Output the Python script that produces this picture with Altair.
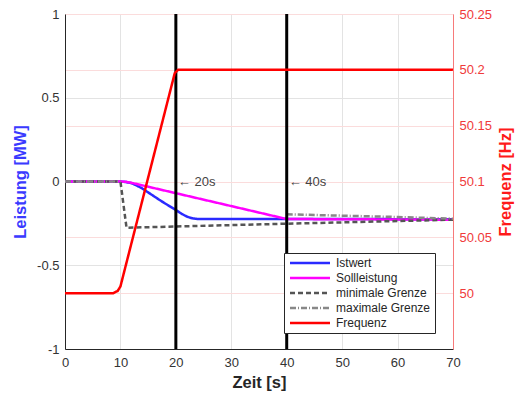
import altair as alt
import pandas as pd

# ---- data ----
series_names = ["Istwert", "Sollleistung", "minimale Grenze", "maximale Grenze", "Frequenz"]

ist_t = [0, 10, 11, 12, 13, 14, 15, 16, 17, 18, 19, 20, 21, 22, 23, 24, 40, 70]
ist_v = [0, 0, -0.003, -0.01, -0.025, -0.043, -0.065, -0.087, -0.109, -0.13, -0.15, -0.17, -0.192, -0.21, -0.22, -0.224, -0.224, -0.225]

soll_t = [0, 10, 11, 12, 40, 70]
soll_v = [0, 0, -0.002, -0.008, -0.224, -0.228]

min_t = [0, 10, 11.1, 40, 70]
min_v = [0, 0, -0.276, -0.252, -0.228]

# maximale Grenze: two visible pieces (0-10 s and 40-70 s)
max_t = [0, 10, 40, 60, 70]
max_v = [0, 0, -0.196, -0.212, -0.222]
max_seg = [0, 0, 1, 1, 1]

freq_t = [0, 8.7, 9.5, 10, 19.8, 20.4, 70]
freq_v = [50.0, 50.0, 50.002, 50.006, 50.197, 50.2, 50.2]

marker_t = [20, 40]
marker_text = ["\u2190  20s", "\u2190  40s"]

x_ticks = [0, 10, 20, 30, 40, 50, 60, 70]
left_ticks = [-1, -0.5, 0, 0.5, 1]
right_ticks = [50, 50.05, 50.1, 50.15, 50.2, 50.25]

line_colors = ["#2a2aff", "#ff00ff", "#555555", "#888888", "#ff0000"]
line_dashes = [[1, 0], [1, 0], [5, 3], [6, 2, 1, 2], [1, 0]]
line_widths = [2.5, 2.5, 1, 1, 4]

# ---- tables ----
rows = []
for name, ts, vs, segs in [("Istwert", ist_t, ist_v, None), ("Sollleistung", soll_t, soll_v, None),
                           ("minimale Grenze", min_t, min_v, None),
                           ("maximale Grenze", max_t, max_v, max_seg)]:
    for i, (t, v) in enumerate(zip(ts, vs)):
        rows.append({"series": name, "t": t, "v": v, "ord": i,
                     "seg": name + str(segs[i] if segs else 0)})
df_p = pd.DataFrame(rows)
df_f = pd.DataFrame({"series": "Frequenz", "t": freq_t, "f": freq_v, "ord": list(range(len(freq_t)))})
df_m = pd.DataFrame({"t": marker_t, "v": [0, 0], "label": marker_text})

FONT = "Liberation Sans"

x_enc = alt.X("t:Q", scale=alt.Scale(domain=[0, 70], nice=False),
              axis=alt.Axis(values=x_ticks, title="Zeit [s]", grid=True, gridColor="#e3e3e3",
                            domainColor="#262626", tickSize=0, labelPadding=7, labelFlush=False,
                            labelFontSize=13, labelColor="#333333", labelFont=FONT,
                            titleFont=FONT, titleFontSize=16.5, titleFontWeight="bold",
                            titleColor="#262626", titlePadding=5))

legend = alt.Legend(title=None, orient="none", legendX=219, legendY=239,
                    fillColor="white", strokeColor="#262626", padding=4,
                    symbolType="M-5,0H5", symbolSize=64, symbolOffset=16,
                    labelFontSize=12, labelFont=FONT, labelColor="#262626",
                    rowPadding=3, labelLimit=0, labelOffset=20)

color = alt.Color("series:N", scale=alt.Scale(domain=series_names, range=line_colors), legend=legend)
dash = alt.StrokeDash("series:N", scale=alt.Scale(domain=series_names, range=line_dashes), legend=legend)
width = alt.StrokeWidth("series:N", scale=alt.Scale(domain=series_names, range=line_widths), legend=legend)

power = alt.Chart(df_p).mark_line(clip=True).encode(
    x=x_enc,
    y=alt.Y("v:Q", scale=alt.Scale(domain=[-1, 1], nice=False),
            axis=alt.Axis(values=left_ticks, labelExpr="datum.value + ''", title="Leistung [MW]",
                          grid=True, gridColor="#e3e3e3", domainColor="#262626", tickSize=0,
                          labelPadding=6, labelFlush=False, labelFontSize=13, labelColor="#333333",
                          labelFont=FONT, titleFont=FONT, titleFontSize=16.5, titleFontWeight="bold",
                          titleColor="#3a3aff", titlePadding=8)),
    color=color, strokeDash=dash, strokeWidth=width, order="ord:Q", detail="seg:N",
)

rules = alt.Chart(df_m).mark_rule(color="black", strokeWidth=3).encode(x="t:Q")

texts = alt.Chart(df_m).mark_text(align="left", dx=2, fontSize=13, font=FONT, color="#444444").encode(
    x="t:Q", y="v:Q", text="label:N")

left = alt.layer(power, rules, texts)

freq = alt.Chart(df_f).mark_line(clip=True).encode(
    x="t:Q",
    y=alt.Y("f:Q", scale=alt.Scale(domain=[49.95, 50.25], nice=False, zero=False),
            axis=alt.Axis(orient="right", values=right_ticks, labelExpr="datum.value + ''",
                          title="Frequenz [Hz]", grid=True, gridColor="#fbdcdc",
                          domainColor="#f77a7a", tickSize=0, labelPadding=6, labelFlush=False,
                          labelFontSize=13, labelColor="#f03a3a", labelFont=FONT, titleFont=FONT,
                          titleFontSize=16.5, titleFontWeight="bold", titleColor="#ff1a1a",
                          titlePadding=22, titleAngle=270)),
    color=color, strokeDash=dash, strokeWidth=width, order="ord:Q",
)

chart = alt.layer(left, freq).resolve_scale(y="independent").properties(
    width=388, height=335,
    autosize=alt.AutoSizeParams(type="none"),
    padding={"left": 65, "top": 14, "right": 66, "bottom": 47},
    background="white",
).configure_view(stroke="#999999")

chart.save("out.html", embed_options={"renderer": "svg", "actions": False})
